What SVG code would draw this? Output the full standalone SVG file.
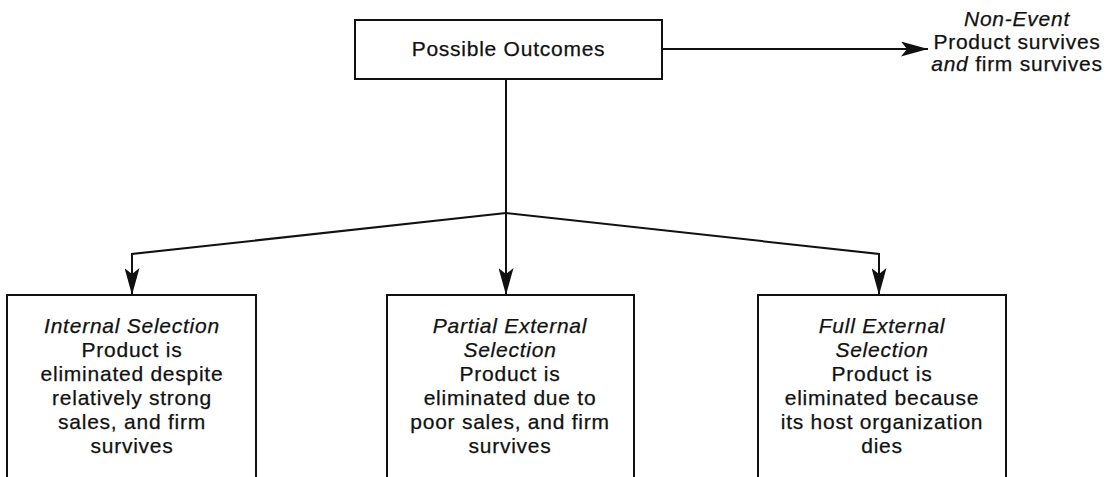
<svg xmlns="http://www.w3.org/2000/svg" width="1118" height="477" viewBox="0 0 1118 477">
<style>
.box{fill:#fff;stroke:#111;stroke-width:2}
.conn{fill:none;stroke:#111;stroke-width:2}
text{font-family:"Liberation Sans",Arial,Helvetica,sans-serif;font-size:21px;fill:#111;stroke:#111;stroke-width:0.25;text-anchor:middle;letter-spacing:0.75px}
.it{font-style:italic}
</style>
<defs>
<marker id="arr" markerUnits="userSpaceOnUse" viewBox="0 0 27 15" markerWidth="27" markerHeight="15" refX="27" refY="7.5" orient="auto">
<path d="M0,0 L27,7.5 L0,15 L6,7.5 z" fill="#111"/>
</marker>
</defs>
<rect width="1118" height="477" fill="#fff"/>
<g id="connectors">
<line class="conn" x1="662" y1="49" x2="928" y2="49" marker-end="url(#arr)"/>
<line class="conn" x1="506" y1="79" x2="506" y2="295" marker-end="url(#arr)"/>
<polyline class="conn" points="506,213 132,254 132,295" marker-end="url(#arr)"/>
<polyline class="conn" points="506,213 879,254 879,295" marker-end="url(#arr)"/>
</g>
<g id="possible-outcomes">
<rect class="box" x="355" y="20" width="307" height="59"/>
<text x="508.5" y="56">Possible Outcomes</text>
</g>
<g id="non-event">
<text x="1017" y="26" class="it">Non-Event</text>
<text x="1017" y="49">Product survives</text>
<text x="1017" y="71"><tspan class="it">and</tspan> firm survives</text>
</g>
<g id="internal-selection">
<rect class="box" x="7" y="295" width="249" height="200"/>
<text x="132" y="333" class="it">Internal Selection</text>
<text x="132" y="357">Product is</text>
<text x="132" y="381">eliminated despite</text>
<text x="132" y="405">relatively strong</text>
<text x="132" y="429">sales, and firm</text>
<text x="132" y="453">survives</text>
</g>
<g id="partial-external-selection">
<rect class="box" x="387" y="295" width="247" height="200"/>
<text x="510" y="333" class="it">Partial External</text>
<text x="510" y="357" class="it">Selection</text>
<text x="510" y="381">Product is</text>
<text x="510" y="405">eliminated due to</text>
<text x="510" y="429">poor sales, and firm</text>
<text x="510" y="453">survives</text>
</g>
<g id="full-external-selection">
<rect class="box" x="758" y="295" width="248" height="200"/>
<text x="882" y="333" class="it">Full External</text>
<text x="882" y="357" class="it">Selection</text>
<text x="882" y="381">Product is</text>
<text x="882" y="405">eliminated because</text>
<text x="882" y="429">its host organization</text>
<text x="882" y="453">dies</text>
</g>
</svg>
